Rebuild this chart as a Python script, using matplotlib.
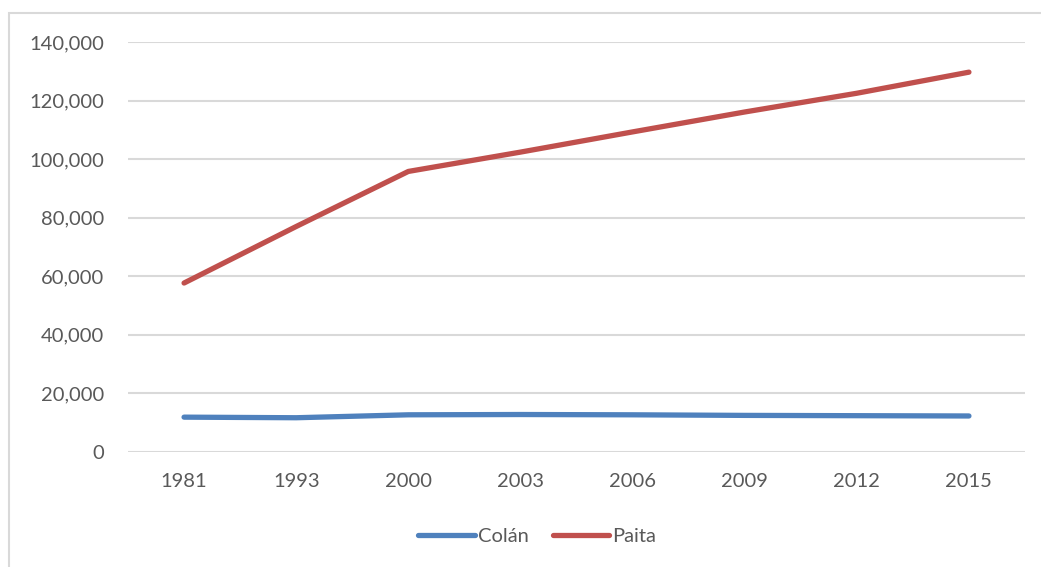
import matplotlib
matplotlib.use("Agg")
import matplotlib.pyplot as plt
from matplotlib.patches import Rectangle
from matplotlib.ticker import FuncFormatter

plt.rcParams['font.family'] = ['Lato', 'DejaVu Sans']

years = ["1981", "1993", "2000", "2003", "2006", "2009", "2012", "2015"]
colan = [11900, 11700, 12700, 12800, 12700, 12500, 12400, 12300]
paita = [57700, 77000, 95800, 102400, 109300, 116100, 122500, 129700]

fig = plt.figure(figsize=(10.41, 5.67), dpi=100)
ax = fig.add_axes([128 / 1041, 1 - 452 / 567, 897 / 1041, 410 / 567])

# chart frame
fig.patches.append(Rectangle((9 / 1041, -0.1), 1.2, 1 - 13 / 567 + 0.1,
                             transform=fig.transFigure, fill=False,
                             edgecolor='#d9d9d9', linewidth=1.5))

x = range(len(years))
ax.plot(x, colan, color='#4f81bd', linewidth=3.8, solid_capstyle='round',
        solid_joinstyle='round', label='Colán')
ax.plot(x, paita, color='#c0504d', linewidth=3.8, solid_capstyle='round',
        solid_joinstyle='round', label='Paita')

ax.set_xlim(-0.5, len(years) - 0.5)
ax.set_ylim(0, 140000)
ax.set_yticks(range(0, 140001, 20000))
ax.yaxis.set_major_formatter(FuncFormatter(lambda v, p: f"{int(v):,}"))
ax.set_xticks(list(x))
ax.set_xticklabels(years)
ax.tick_params(length=0, labelsize=14.5, labelcolor='#595959')
ax.tick_params(axis='x', pad=15)
ax.tick_params(axis='y', pad=17)
ax.grid(axis='y', color='#d9d9d9', linewidth=1.5)
ax.set_axisbelow(True)
for s in ax.spines.values():
    s.set_visible(False)

fig.legend(loc='center', bbox_to_anchor=(0.516, 1 - 536 / 567), ncol=2,
           frameon=False, fontsize=14.5, labelcolor='#595959',
           handlelength=2.8, handletextpad=0.15, columnspacing=1.2)

fig.savefig("out.png", dpi=100)
